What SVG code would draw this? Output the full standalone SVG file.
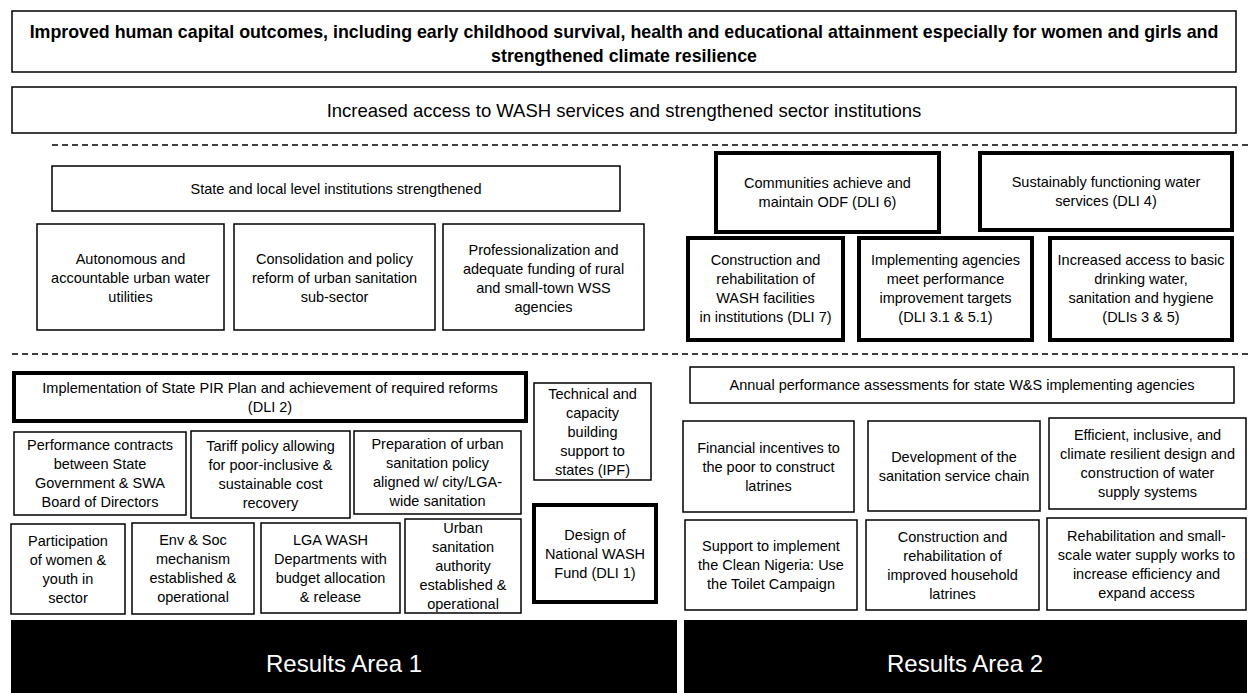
<svg xmlns="http://www.w3.org/2000/svg" width="1248" height="693" viewBox="0 0 1248 693">
<style>
.b{fill:#fff;stroke:#000;stroke-width:1.5}
.bt{fill:#fff;stroke:#000;stroke-width:4}
.t{font-family:"Liberation Sans",Arial,sans-serif;font-size:14.5px;text-anchor:middle;fill:#000}
.tb{font-family:"Liberation Sans",Arial,sans-serif;font-size:17.8px;font-weight:bold;text-anchor:middle;fill:#000}
.tl{font-family:"Liberation Sans",Arial,sans-serif;font-size:18.5px;text-anchor:middle;fill:#000}
.ra{fill:#000}
.rt{font-family:"Liberation Sans",Arial,sans-serif;font-size:24px;text-anchor:middle;fill:#fff}
.dash{stroke:#000;stroke-width:1.5;stroke-dasharray:6 4;fill:none}
</style>
<rect width="1248" height="693" fill="#fff"/>
<g id="separators">
<line class="dash" x1="52" y1="145" x2="1248" y2="145"/>
<line class="dash" x1="12" y1="354" x2="1248" y2="354"/>
</g>
<g id="n_goal"><rect class="b" x="12" y="11" width="1224" height="61"/>
<text class="tb"><tspan x="624" y="38">Improved human capital outcomes, including early childhood survival, health and educational attainment especially for women and girls and</tspan><tspan x="624" y="62">strengthened climate resilience</tspan></text></g>
<g id="n_pdo"><rect class="b" x="12" y="87" width="1224" height="46"/>
<text class="tl"><tspan x="624" y="117">Increased access to WASH services and strengthened sector institutions</tspan></text></g>
<g id="n_state"><rect class="b" x="52" y="166" width="568" height="45"/>
<text class="t"><tspan x="336" y="194">State and local level institutions strengthened</tspan></text></g>
<g id="n_auto"><rect class="b" x="37" y="224" width="187" height="106"/>
<text class="t"><tspan x="130.5" y="264">Autonomous and</tspan><tspan x="130.5" y="283">accountable urban water</tspan><tspan x="130.5" y="302">utilities</tspan></text></g>
<g id="n_consol"><rect class="b" x="234" y="224" width="201" height="106"/>
<text class="t"><tspan x="334.5" y="264">Consolidation and policy</tspan><tspan x="334.5" y="283">reform of urban sanitation</tspan><tspan x="334.5" y="302">sub-sector</tspan></text></g>
<g id="n_prof"><rect class="b" x="443" y="224" width="201" height="106"/>
<text class="t"><tspan x="543.5" y="254.5">Professionalization and</tspan><tspan x="543.5" y="273.5">adequate funding of rural</tspan><tspan x="543.5" y="292.5">and small-town WSS</tspan><tspan x="543.5" y="311.5">agencies</tspan></text></g>
<g id="n_odf"><rect class="bt" x="716" y="153" width="223" height="79"/>
<text class="t"><tspan x="827.5" y="188">Communities achieve and</tspan><tspan x="827.5" y="207">maintain ODF (DLI 6)</tspan></text></g>
<g id="n_water"><rect class="bt" x="980" y="153" width="252" height="77"/>
<text class="t"><tspan x="1106" y="187">Sustainably functioning water</tspan><tspan x="1106" y="206">services (DLI 4)</tspan></text></g>
<g id="n_dli7"><rect class="bt" x="688" y="238" width="155" height="102"/>
<text class="t"><tspan x="765.5" y="265">Construction and</tspan><tspan x="765.5" y="284">rehabilitation of</tspan><tspan x="765.5" y="303">WASH facilities</tspan><tspan x="765.5" y="322">in institutions (DLI 7)</tspan></text></g>
<g id="n_impl"><rect class="bt" x="859" y="238" width="173" height="102"/>
<text class="t"><tspan x="945.5" y="265">Implementing agencies</tspan><tspan x="945.5" y="284">meet performance</tspan><tspan x="945.5" y="303">improvement targets</tspan><tspan x="945.5" y="322">(DLI 3.1 &amp; 5.1)</tspan></text></g>
<g id="n_access"><rect class="bt" x="1050" y="238" width="182" height="102"/>
<text class="t"><tspan x="1141" y="265">Increased access to basic</tspan><tspan x="1141" y="284">drinking water,</tspan><tspan x="1141" y="303">sanitation and hygiene</tspan><tspan x="1141" y="322">(DLIs 3 &amp; 5)</tspan></text></g>
<g id="n_pir"><rect class="bt" x="14" y="373" width="512" height="48"/>
<text class="t"><tspan x="270" y="393">Implementation of State PIR Plan and achievement of required reforms</tspan><tspan x="270" y="412">(DLI 2)</tspan></text></g>
<g id="n_tech"><rect class="b" x="534" y="383" width="117" height="97"/>
<text class="t"><tspan x="592.5" y="398.5">Technical and</tspan><tspan x="592.5" y="417.5">capacity</tspan><tspan x="592.5" y="436.5">building</tspan><tspan x="592.5" y="455.5">support to</tspan><tspan x="592.5" y="474.5">states (IPF)</tspan></text></g>
<g id="n_perf"><rect class="b" x="14" y="432" width="172" height="83"/>
<text class="t"><tspan x="100" y="450">Performance contracts</tspan><tspan x="100" y="469">between State</tspan><tspan x="100" y="488">Government &amp; SWA</tspan><tspan x="100" y="507">Board of Directors</tspan></text></g>
<g id="n_tariff"><rect class="b" x="191" y="431" width="159" height="87"/>
<text class="t"><tspan x="270.5" y="451">Tariff policy allowing</tspan><tspan x="270.5" y="470">for poor-inclusive &amp;</tspan><tspan x="270.5" y="489">sustainable cost</tspan><tspan x="270.5" y="508">recovery</tspan></text></g>
<g id="n_prep"><rect class="b" x="354" y="431" width="167" height="83"/>
<text class="t"><tspan x="437.5" y="449">Preparation of urban</tspan><tspan x="437.5" y="468">sanitation policy</tspan><tspan x="437.5" y="487">aligned w/ city/LGA-</tspan><tspan x="437.5" y="506">wide sanitation</tspan></text></g>
<g id="n_part"><rect class="b" x="11" y="524" width="114" height="90"/>
<text class="t"><tspan x="68" y="545.5">Participation</tspan><tspan x="68" y="564.5">of women &amp;</tspan><tspan x="68" y="583.5">youth in</tspan><tspan x="68" y="602.5">sector</tspan></text></g>
<g id="n_env"><rect class="b" x="132" y="523" width="122" height="91"/>
<text class="t"><tspan x="193" y="545">Env &amp; Soc</tspan><tspan x="193" y="564">mechanism</tspan><tspan x="193" y="583">established &amp;</tspan><tspan x="193" y="602">operational</tspan></text></g>
<g id="n_lga"><rect class="b" x="261" y="523" width="139" height="90"/>
<text class="t"><tspan x="330.5" y="544.5">LGA WASH</tspan><tspan x="330.5" y="563.5">Departments with</tspan><tspan x="330.5" y="582.5">budget allocation</tspan><tspan x="330.5" y="601.5">&amp; release</tspan></text></g>
<g id="n_urban"><rect class="b" x="405" y="519" width="116" height="94"/>
<text class="t"><tspan x="463" y="533">Urban</tspan><tspan x="463" y="552">sanitation</tspan><tspan x="463" y="571">authority</tspan><tspan x="463" y="590">established &amp;</tspan><tspan x="463" y="609">operational</tspan></text></g>
<g id="n_fund"><rect class="bt" x="534" y="505" width="122" height="97"/>
<text class="t"><tspan x="595" y="539.5">Design of</tspan><tspan x="595" y="558.5">National WASH</tspan><tspan x="595" y="577.5">Fund (DLI 1)</tspan></text></g>
<g id="n_annual"><rect class="b" x="690" y="367" width="544" height="36"/>
<text class="t"><tspan x="962" y="390">Annual performance assessments for state W&amp;S implementing agencies</tspan></text></g>
<g id="n_fin"><rect class="b" x="683" y="421" width="171" height="91"/>
<text class="t"><tspan x="768.5" y="452.5">Financial incentives to</tspan><tspan x="768.5" y="471.5">the poor to construct</tspan><tspan x="768.5" y="490.5">latrines</tspan></text></g>
<g id="n_dev"><rect class="b" x="868" y="421" width="172" height="90"/>
<text class="t"><tspan x="954" y="461.5">Development of the</tspan><tspan x="954" y="480.5">sanitation service chain</tspan></text></g>
<g id="n_eff"><rect class="b" x="1049" y="418" width="197" height="91"/>
<text class="t"><tspan x="1147.5" y="440">Efficient, inclusive, and</tspan><tspan x="1147.5" y="459">climate resilient design and</tspan><tspan x="1147.5" y="478">construction of water</tspan><tspan x="1147.5" y="497">supply systems</tspan></text></g>
<g id="n_support"><rect class="b" x="685" y="520" width="172" height="90"/>
<text class="t"><tspan x="771" y="551">Support to implement</tspan><tspan x="771" y="570">the Clean Nigeria: Use</tspan><tspan x="771" y="589">the Toilet Campaign</tspan></text></g>
<g id="n_constr"><rect class="b" x="866" y="520" width="173" height="90"/>
<text class="t"><tspan x="952.5" y="541.5">Construction and</tspan><tspan x="952.5" y="560.5">rehabilitation of</tspan><tspan x="952.5" y="579.5">improved household</tspan><tspan x="952.5" y="598.5">latrines</tspan></text></g>
<g id="n_rehab"><rect class="b" x="1047" y="518" width="199" height="92"/>
<text class="t"><tspan x="1146.5" y="540.5">Rehabilitation and small-</tspan><tspan x="1146.5" y="559.5">scale water supply works to</tspan><tspan x="1146.5" y="578.5">increase efficiency and</tspan><tspan x="1146.5" y="597.5">expand access</tspan></text></g>
<g id="ra1"><rect class="ra" x="11" y="620" width="666" height="73"/>
<text class="rt" x="344" y="672">Results Area 1</text></g>
<g id="ra2"><rect class="ra" x="684" y="620" width="563" height="73"/>
<text class="rt" x="965" y="672">Results Area 2</text></g>
</svg>
